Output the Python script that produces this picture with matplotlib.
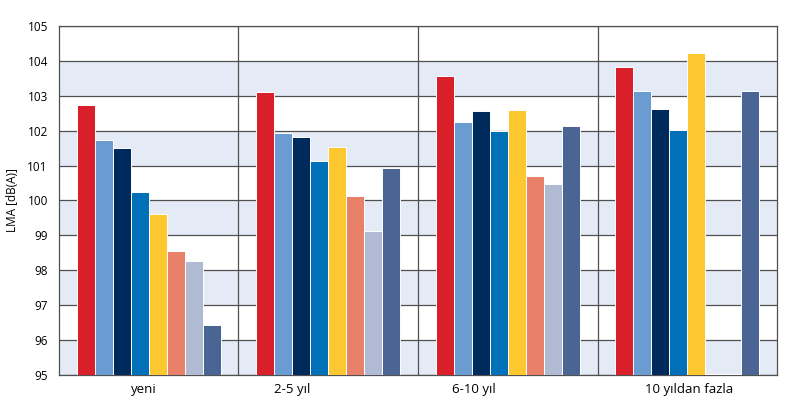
import matplotlib

matplotlib.use("Agg")
import matplotlib.pyplot as plt
import numpy as np

plt.rcParams["font.family"] = ["Open Sans", "DejaVu Sans"]

groups = ["yeni", "2-5 yıl", "6-10 yıl", "10 yıldan fazla"]
series_colors = ["#d9202a", "#6a9bd1", "#002a5c", "#0070b8",
                 "#fdc82f", "#e8806a", "#b0bbd3", "#4a6593"]
# one row per group, one column per series
values = np.array([
    [102.74, 101.73, 101.51, 100.24, 99.61, 98.56, 98.27, 96.43],
    [103.12, 101.93, 101.82, 101.13, 101.54, 100.13, 99.13, 100.93],
    [103.57, 102.25, 102.56, 101.99, 102.59, 100.70, 100.48, 102.13],
    [103.83, 103.14, 102.63, 102.02, 104.24, 95.03, 95.02, 103.14],
])
y_ticks = list(range(95, 106))

fig = plt.figure(figsize=(7.94, 4.16), dpi=100)
ax = fig.add_axes([0.0743, 0.0986, 0.9043, 0.8389])

base = 95
x = np.arange(len(groups))
n = values.shape[1]
width = 0.1
for i in range(n):
    offs = (i - (n - 1) / 2) * width
    ax.bar(x + offs, values[:, i] - base, bottom=base, width=width,
           color=series_colors[i], edgecolor="white", linewidth=0.7, zorder=3)

# alternating bands
for lo in range(95, 105, 2):
    ax.axhspan(lo, lo + 1, color="#e5ebf6", zorder=0, lw=0)
for y in y_ticks:
    ax.axhline(y, color="#505050", lw=0.9, zorder=1)
for sep in x[:-1] + 0.5:
    ax.axvline(sep, color="#505050", lw=0.9, zorder=1)

ax.set_xlim(-0.5, len(groups) - 0.5)
ax.set_ylim(95, 105)
ax.set_yticks(y_ticks)
ax.tick_params(axis="y", length=0, labelsize=8.5, pad=8)
label_pos = [-0.03, 0.80, 1.81, 3.01]
ax.set_xticks(label_pos)
ax.set_xticklabels(groups, fontsize=9.5)
ax.tick_params(axis="x", length=0, pad=6)
ax.set_ylabel("LMA [dB(A)]", fontsize=8.5, labelpad=6)
for s in ax.spines.values():
    s.set_color("#505050")
    s.set_linewidth(0.9)

fig.savefig("out.png", dpi=100)
plt.close(fig)
